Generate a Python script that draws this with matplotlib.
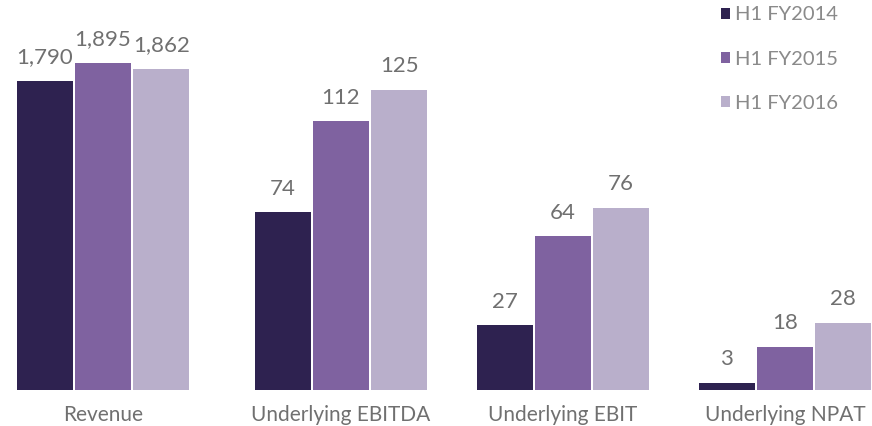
import numpy as np
import matplotlib.pyplot as plt

plt.rcParams['font.family'] = ['Lato', 'DejaVu Sans']

categories = ["Revenue", "Underlying EBITDA", "Underlying EBIT", "Underlying NPAT"]
periods = ["H1 FY2014", "H1 FY2015", "H1 FY2016"]
fy2014 = [1790, 74, 27, 3]
fy2015 = [1895, 112, 64, 18]
fy2016 = [1862, 125, 76, 28]
colors = ["#2E2250", "#7F62A0", "#B9AFCB"]

# revenue is drawn on its own compressed scale in the original slide
rev_scale = 13.9

fig = plt.figure(figsize=(8.72, 4.26), dpi=100)
ax = fig.add_axes([0, 36 / 426, 1, 390 / 426])

centers = np.array([-0.072, 1, 2, 3])
step = 0.262
width = 0.25

for i, (vals, col, lab) in enumerate(zip([fy2014, fy2015, fy2016], colors, periods)):
    h = [v / rev_scale if j == 0 else v for j, v in enumerate(vals)]
    x = centers + (i - 1) * step
    ax.bar(x, h, width, color=col, label=lab)
    for xi, hi, v in zip(x, h, vals):
        ax.annotate(f"{v:,}", (xi, hi), xytext=(0, 17), textcoords="offset points",
                    ha="center", va="center", fontsize=16, color="#707070")

ax.set_xlim(-119 / 222, (872 - 119) / 222)
ax.set_ylim(0, 390 / 2.4)
ax.axis("off")

for c, name in zip(centers, categories):
    ax.text(c, -10.5, name, ha="center", va="center", fontsize=15, color="#707070")

leg = ax.legend(loc="upper left", bbox_to_anchor=(703 / 872, 1.03), frameon=False,
                prop={"size": 14.5}, labelcolor="#8a8a8a",
                handlelength=0.45, handleheight=0.45, handletextpad=0.25,
                labelspacing=1.35)

fig.savefig("out.png", dpi=100)
